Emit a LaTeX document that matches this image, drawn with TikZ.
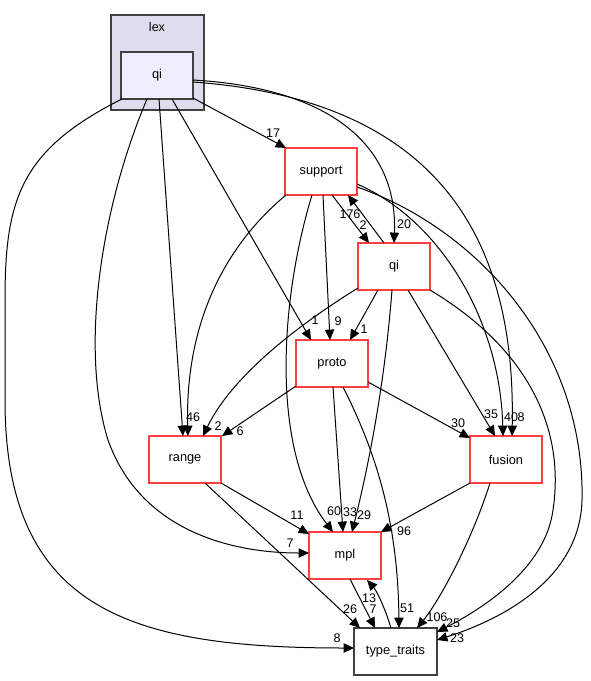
\documentclass[tikz,border=0pt]{standalone}
\usepackage{fontspec}
\setmainfont{Liberation Sans}
\usetikzlibrary{arrows.meta,calc}
\definecolor{clfill}{HTML}{DDDDEE}
\definecolor{qifill}{HTML}{EEEEFF}
\definecolor{redb}{HTML}{FF4040}
\definecolor{darkb}{HTML}{404040}
\begin{document}
\begin{tikzpicture}[x=0.75pt,y=-0.75pt,
  box/.style={draw=redb,line width=0.9pt,fill=white,minimum width=54pt,minimum height=35.25pt,inner sep=0pt,outer sep=0pt,font=\fontsize{9.6}{11}\selectfont},
  conn/.style={draw=black,line width=0.75pt,-{Triangle[length=7.8pt,width=7pt]}},
  lbl/.style={font=\fontsize{9.4}{11}\selectfont,inner sep=0pt}]
\useasboundingbox (0,0) rectangle (590,681);
% cluster
\node[draw=darkb,line width=0.9pt,fill=clfill,minimum width=69.75pt,minimum height=71.25pt,inner sep=0pt,outer sep=0pt] (lexc) at (157.5,62.5) {};
\node[lbl] (lexlbl) at (157,27) {lex};
\node[box,draw=darkb,fill=qifill] (qilex) at (157,75.5) {qi};
% nodes
\node[box] (support) at (321,171.5) {support};
\node[box] (qir) at (394,266.5) {qi};
\node[box] (proto) at (332,363.5) {proto};
\node[box] (range) at (185,459.5) {range};
\node[box] (fusion) at (506,459.5) {fusion};
\node[box] (mpl) at (345,555.5) {mpl};
\node[box,draw=darkb,minimum width=62.25pt] (tt) at (395.5,651.5) {type\_traits};
% edges from qi (lex)
\draw[conn] ($(qilex.north west)+(72,46)$) -- ($(support.north west)+(1,0)$);
\draw[conn] ($(qilex.north west)+(72,28)$) .. controls (330,88) and (398,145) .. ($(qir.north west)+(36,0)$);
\draw[conn] ($(qilex.north west)+(72,30)$) .. controls (440,100) and (516,240) .. ($(fusion.north west)+(42,0)$);
\draw[conn] ($(qilex.north west)+(1,47)$) .. controls (20,150) and (5,200) .. (5,300) -- (5,400) .. controls (5,610) and (130,648) .. ($(tt.north west)+(0,20)$);
\draw[conn] ($(qilex.north west)+(26,47)$) .. controls (100,210) and (80,350) .. (108,440) .. controls (140,530) and (230,553) .. ($(mpl.north west)+(0,21)$);
\draw[conn] ($(qilex.north west)+(38,47)$) -- ($(range.north west)+(34,0)$);
\draw[conn] ($(qilex.north west)+(51,47)$) -- ($(proto.north west)+(15,0)$);
% edges from support
\draw[conn] ($(support.north west)+(47,47)$) -- ($(qir.north west)+(11,0)$);
\draw[conn] ($(support.north west)+(38,47)$) -- ($(proto.north west)+(34,0)$);
\draw[conn] ($(support.north west)+(1,47)$) .. controls (220,250) and (185,330) .. ($(range.north west)+(39,0)$);
\draw[conn] ($(support.north west)+(27,47)$) .. controls (280,300) and (270,450) .. ($(mpl.north west)+(24,0)$);
\draw[conn] ($(support.north west)+(72,39)$) .. controls (480,230) and (585,350) .. (582,500) .. controls (580,580) and (500,620) .. ($(tt.north west)+(83,12)$);
\draw[conn] ($(support.north west)+(72,36)$) .. controls (440,220) and (500,320) .. ($(fusion.north west)+(33,0)$);
% edges from qi (red)
\draw[conn] ($(qir.north west)+(26,0)$) -- ($(support.north west)+(63,47)$);
\draw[conn] ($(qir.north west)+(0,45)$) .. controls (290,330) and (230,380) .. ($(range.north west)+(54,0)$);
\draw[conn] ($(qir.north west)+(34,47)$) .. controls (385,380) and (370,460) .. ($(mpl.north west)+(43,0)$);
\draw[conn] ($(qir.north west)+(72,47)$) .. controls (530,350) and (565,430) .. (553,510) .. controls (545,570) and (480,610) .. ($(tt.north west)+(83,4)$);
\draw[conn] ($(qir.north west)+(50,47)$) -- ($(fusion.north west)+(25,0)$);
\draw[conn] ($(qir.north west)+(20,47)$) -- ($(proto.north west)+(54,0)$);
% edges from proto
\draw[conn] ($(proto.north west)+(37,47)$) -- ($(mpl.north west)+(34,0)$);
\draw[conn] ($(proto.north west)+(47,47)$) .. controls (375,450) and (398,520) .. ($(tt.north west)+(45,0)$);
\draw[conn] ($(proto.north west)+(0,46)$) -- ($(range.north west)+(73,0)$);
\draw[conn] ($(proto.north west)+(72,42)$) -- ($(fusion.north west)+(0,2)$);
% edges from range
\draw[conn] ($(range.north west)+(72,47)$) -- ($(mpl.north west)+(0,2)$);
\draw[conn] ($(range.north west)+(56,47)$) -- ($(tt.north west)+(6,0)$);
% edges from fusion
\draw[conn] ($(fusion.north west)+(0,47)$) -- ($(mpl.north west)+(72,0)$);
\draw[conn] ($(fusion.north west)+(20,47)$) .. controls (472,540) and (440,600) .. ($(tt.north west)+(63,0)$);
% mpl <-> type_traits
\draw[conn] ($(mpl.north west)+(41,47)$) -- ($(tt.north west)+(21,0)$);
\draw[conn] ($(tt.north west)+(37,0)$) .. controls (384,605) and (376,590) .. ($(mpl.north west)+(58,48)$);
% labels
\node[lbl] (l1) at (273,133) {17};
\node[lbl] (l2) at (404,224) {20};
\node[lbl] (l3) at (521,417) {8};
\node[lbl] (l4) at (337,638) {8};
\node[lbl] (l5) at (290,543) {7};
\node[lbl] (l6) at (193,417) {46};
\node[lbl] (l7) at (315,320) {1};
\node[lbl] (l8) at (363,225) {2};
\node[lbl] (l9) at (338,321) {9};
\node[lbl] (l10) at (334,511) {60};
\node[lbl] (l11) at (457,638) {23};
\node[lbl] (l12) at (511,417) {40};
\node[lbl] (l13) at (350,214) {176};
\node[lbl] (l14) at (218,426) {2};
\node[lbl] (l15) at (364,515) {29};
\node[lbl] (l16) at (453,623) {25};
\node[lbl] (l17) at (491,414) {35};
\node[lbl] (l18) at (364,329) {1};
\node[lbl] (l19) at (350,512) {33};
\node[lbl] (l20) at (407,608) {51};
\node[lbl] (l21) at (240,431) {6};
\node[lbl] (l22) at (458,423) {30};
\node[lbl] (l23) at (297,515) {11};
\node[lbl] (l24) at (350,609) {26};
\node[lbl] (l25) at (404,531) {96};
\node[lbl] (l26) at (437,617) {106};
\node[lbl] (l27) at (373,609) {7};
\node[lbl] (l28) at (369,598) {13};
\end{tikzpicture}
\end{document}
